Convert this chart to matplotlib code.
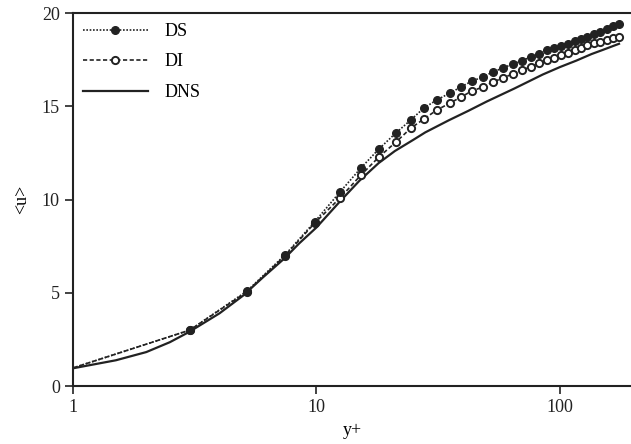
import matplotlib
matplotlib.use("Agg")
import matplotlib.pyplot as plt
from matplotlib.ticker import FixedLocator, NullLocator

# y+ positions of the data points (log axis)
yplus = [1.0, 3.02, 5.18, 7.42, 9.86, 12.49, 15.23, 18.06, 21.21, 24.44, 27.65,
         31.25, 35.35, 39.21, 43.51, 48.29, 53.06, 58.33, 64.12, 69.81, 76.01,
         82.0, 88.4, 94.5, 100.9, 107.9, 115.2, 122.0, 129.1, 137.9, 146.0,
         156.0, 165.1, 174.7]

u_ds = [0.97, 3.0, 5.09, 7.02, 8.82, 10.40, 11.69, 12.71, 13.57, 14.27, 14.91,
        15.34, 15.71, 16.03, 16.35, 16.57, 16.84, 17.05, 17.27, 17.45, 17.64,
        17.80, 18.02, 18.12, 18.23, 18.36, 18.50, 18.61, 18.71, 18.85, 18.98,
        19.14, 19.28, 19.41]

u_di = [0.97, 3.0, 5.05, 6.98, 8.75, 10.08, 11.31, 12.28, 13.08, 13.83, 14.32,
        14.80, 15.17, 15.49, 15.82, 16.03, 16.30, 16.51, 16.74, 16.94, 17.12,
        17.30, 17.46, 17.60, 17.74, 17.88, 18.02, 18.14, 18.26, 18.37, 18.47,
        18.56, 18.64, 18.71]

# DNS curve
yplus_dns = [1.0, 1.5, 2.0, 2.5, 3.0, 4.0, 5.0, 6.0, 7.4, 8.5, 10.0, 12.5,
             15.0, 18.0, 21.0, 25.0, 28.0, 35.0, 42.0, 50.0, 57.0, 65.0, 75.0,
             85.0, 100.0, 117.0, 135.0, 150.0, 175.0]
u_dns = [0.95, 1.38, 1.82, 2.35, 2.9, 3.9, 4.85, 5.8, 6.85, 7.65, 8.5, 9.9,
         11.0, 11.95, 12.6, 13.2, 13.6, 14.25, 14.75, 15.25, 15.6, 15.95,
         16.35, 16.7, 17.1, 17.45, 17.8, 18.02, 18.35]

plt.rcParams['font.family'] = ['Liberation Serif', 'DejaVu Serif']
plt.rcParams['font.size'] = 13

fig = plt.figure(figsize=(6.31, 4.44), dpi=100)
ax = fig.add_axes([0.1157, 0.1306, 0.8843, 0.8401])

ax.plot(yplus, u_ds, linestyle=(0, (1, 1)), color="#222222", lw=1.2,
        marker="o", markersize=5.5, markerfacecolor="#222222",
        markeredgecolor="#222222", markevery=slice(1, None), label="DS")
ax.plot(yplus, u_di, linestyle=(0, (2.5, 1.5)), color="#222222", lw=1.2,
        marker="o", markersize=5.2, markerfacecolor="white",
        markeredgecolor="#222222", markeredgewidth=1.4,
        markevery=slice(1, None), label="DI", zorder=1.5)
ax.plot(yplus_dns, u_dns, "-", color="#222222", lw=1.6, label="DNS", zorder=1)

ax.set_xscale("log")
ax.set_xlim(1, 196)
ax.set_ylim(0, 20)
ax.xaxis.set_major_locator(FixedLocator([1, 10, 100]))
ax.xaxis.set_minor_locator(NullLocator())
ax.set_xticklabels(["1", "10", "100"])
ax.set_yticks([0, 5, 10, 15, 20])
ax.tick_params(direction="out", length=6, width=1.2, colors="#222222")

for s in ["left", "bottom", "top"]:
    ax.spines[s].set_linewidth(1.5)
    ax.spines[s].set_color("#222222")
ax.spines["right"].set_visible(False)

ax.set_xlabel("y+", labelpad=4)
ax.set_ylabel("<u>", labelpad=8)

ax.legend(loc="upper left", frameon=False, handlelength=3.6,
          handletextpad=0.9, labelspacing=0.75, borderaxespad=0.25,
          borderpad=0.3)

fig.savefig("out.png", dpi=100)
